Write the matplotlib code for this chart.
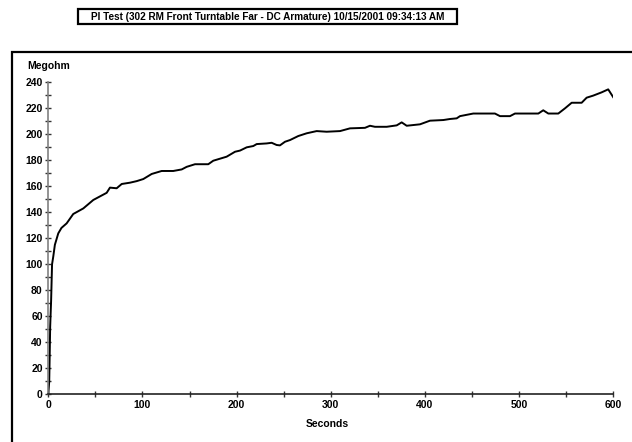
import matplotlib
matplotlib.use('Agg')
import matplotlib.pyplot as plt
import matplotlib.patches as mp
from matplotlib.ticker import MultipleLocator

# readings taken off the chart (seconds, megohm)
seconds = [0, 1, 1.5, 2, 3, 4, 5.3, 7, 10.6, 14, 19.5, 26.5, 37.2, 47.8, 62, 65.5, 72.6, 78,
           86.8, 93.9, 100.9, 109.8, 120.4, 132.7, 141.7, 147, 155.8, 169.9, 175.2, 189.4,
           198.3, 203.6, 210.7, 217.7, 221.3, 231.9, 237.2, 242.5, 246, 251.4, 256.7, 265.5,
           274.4, 285, 295.6, 309.8, 320.4, 336.3, 341.6, 346.9, 359.4, 370, 375.3, 380.6,
           394.7, 405.3, 419.5, 426.6, 433.7, 437.2, 451.3, 474.3, 479.7, 490.3, 495.6, 520.4,
           525.6, 531, 541.6, 548.7, 555.8, 566.4, 571.7, 578.7, 587.6, 594.6, 600]
megohm = [0, 10, 30, 52, 72, 100, 106, 115, 123.8, 128, 131.5, 138.7, 143, 149.5, 155, 159,
          158.5, 161.8, 162.8, 164, 165.6, 169.5, 171.8, 171.8, 173, 175, 177, 177, 179.7,
          182.8, 186.6, 187.5, 190, 191, 192.5, 193, 193.5, 191.8, 191.5, 194.3, 195.6,
          198.7, 200.8, 202.5, 202, 202.5, 204.6, 205, 206.6, 205.8, 205.8, 206.9, 209.2,
          206.6, 207.7, 210.5, 211, 211.8, 212.3, 214, 216, 216, 214, 214, 216, 216, 218.5,
          216, 216, 220, 224.3, 224.3, 228.2, 229.8, 232.3, 234.6, 228.5]

title = 'PI Test (302 RM Front Turntable Far - DC Armature) 10/15/2001 09:34:13 AM'

plt.rcParams['font.family'] = ['Liberation Sans', 'DejaVu Sans']

W, H = 632, 442
fig = plt.figure(figsize=[6.32, 4.42], dpi=100)
ax = fig.add_axes([0.0764, 0.108, 0.894, 0.7057])

ax.plot(seconds, megohm, color='black', lw=1.4)
ax.set_xlim(0, 600)
ax.set_ylim(0, 240)
ax.xaxis.set_major_locator(MultipleLocator(100))
ax.xaxis.set_minor_locator(MultipleLocator(50))
ax.yaxis.set_major_locator(MultipleLocator(20))
ax.yaxis.set_minor_locator(MultipleLocator(10))
ax.tick_params(which='both', direction='inout', length=4, width=1, color='#333333',
               labelsize=7.5, pad=2)
for lab in ax.get_xticklabels() + ax.get_yticklabels():
    lab.set_fontweight('bold')

ax.spines['top'].set_visible(False)
ax.spines['right'].set_visible(False)
ax.spines['left'].set_color('#808080')
ax.spines['bottom'].set_color('#222222')
ax.spines['left'].set_linewidth(1.2)
ax.spines['bottom'].set_linewidth(1.2)

fig.text(27 / W, 1 - 66 / H, 'Megohm', fontsize=7.5, fontweight='bold', va='center', ha='left')
fig.text(0.5175, 1 - 424 / H, 'Seconds', fontsize=7.5, fontweight='bold', va='center', ha='center')

# outer frame around the plot area
fig.patches.append(mp.Rectangle((12 / W, -0.05), 1.0, 1 - 52 / H + 0.05, transform=fig.transFigure,
                                fill=False, edgecolor='black', lw=1.6))

# title box
fig.patches.append(mp.Rectangle((78 / W, 1 - 24 / H), 379 / W, 15 / H, transform=fig.transFigure,
                                fill=False, edgecolor='black', lw=1.6))
fig.text(267.5 / W, 1 - 16.5 / H, title, fontsize=7.2, fontweight='bold', ha='center', va='center')

fig.savefig('out.png', dpi=100)
